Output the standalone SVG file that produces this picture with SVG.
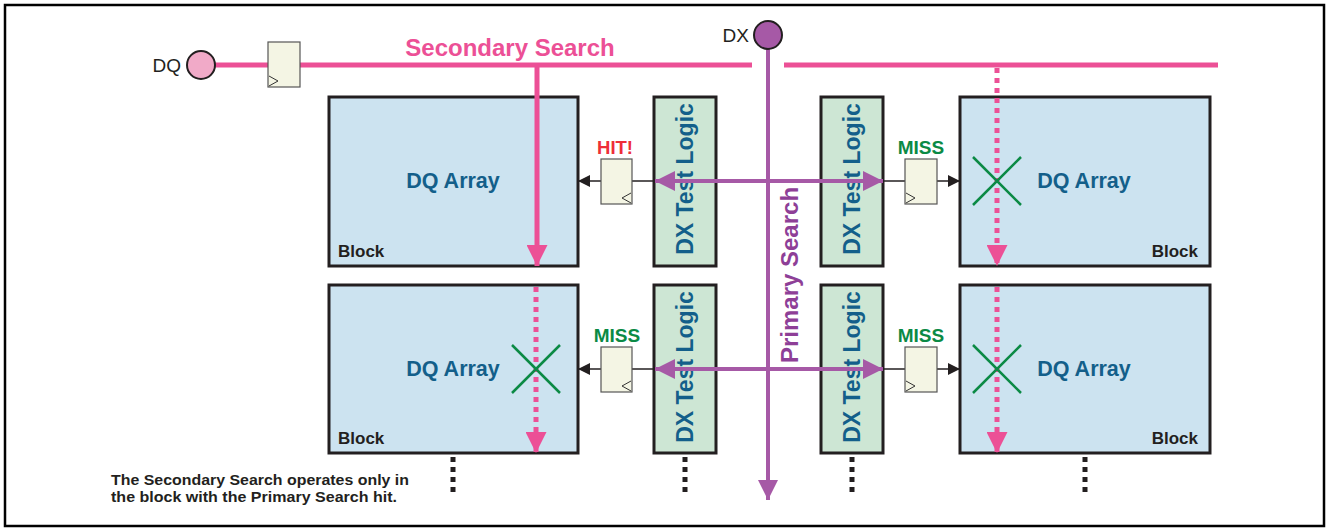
<svg xmlns="http://www.w3.org/2000/svg" width="1327" height="529" viewBox="0 0 1327 529">
<defs>
<style>
.blk{fill:#cce3f0;stroke:#231f20;stroke-width:3}
.dxl{fill:#cde6d4;stroke:#231f20;stroke-width:3}
.ff{fill:#f4f5e4;stroke:#555;stroke-width:1.2}
.clk{fill:none;stroke:#333;stroke-width:1}
.t{font-family:"Liberation Sans",Arial,sans-serif;font-weight:bold}
.arr{font-size:21.5px;fill:#135f8a}
.dxt{font-size:23px;fill:#135f8a}
.blab{font-size:17px;fill:#231f20}
.pink{stroke:#ec5096;stroke-width:5;fill:none}
.pdot{stroke:#ec5096;stroke-width:5;stroke-dasharray:5 5;fill:none}
.purp{stroke:#a659a6;stroke-width:4;fill:none}
.blk-l{stroke:#231f20;stroke-width:1.5;fill:none}
.x{stroke:#0b8a45;stroke-width:2.5}
.miss{font-size:19px;fill:#0b8a45}
.dots{stroke:#231f20;stroke-width:5;stroke-dasharray:5 5}
</style>
<marker id="pa" viewBox="0 0 10 10" refX="10" refY="5" markerWidth="4.2" markerHeight="4.2" markerUnits="strokeWidth" orient="auto"><path d="M0,0L10,5L0,10z" fill="#ec5096"/></marker>
<marker id="ppa" viewBox="0 0 10 10" refX="10" refY="5" markerWidth="5" markerHeight="5" markerUnits="strokeWidth" orient="auto"><path d="M0,0L10,5L0,10z" fill="#a659a6"/></marker>
<marker id="ppb" viewBox="0 0 10 10" refX="10" refY="5" markerWidth="5" markerHeight="5" markerUnits="strokeWidth" orient="auto-start-reverse"><path d="M0,0L10,5L0,10z" fill="#a659a6"/></marker>
<marker id="ka" viewBox="0 0 10 10" refX="10" refY="5" markerWidth="8" markerHeight="8" markerUnits="strokeWidth" orient="auto"><path d="M0,0L10,5L0,10z" fill="#231f20"/></marker>
</defs>
<rect x="5" y="5" width="1319" height="521" fill="#fff" stroke="#000" stroke-width="2.5"/>

<g id="blocks">
<g id="block-tl"><rect class="blk" x="329" y="97" width="249" height="169"/><text class="t arr" x="453" y="188" text-anchor="middle">DQ Array</text><text class="t blab" x="338" y="257">Block</text></g>
<g id="block-bl"><rect class="blk" x="329" y="285" width="249" height="168"/><text class="t arr" x="453" y="376" text-anchor="middle">DQ Array</text><text class="t blab" x="338" y="444">Block</text></g>
<g id="block-tr"><rect class="blk" x="960" y="97" width="250" height="169"/><text class="t arr" x="1084" y="188" text-anchor="middle">DQ Array</text><text class="t blab" x="1198" y="257" text-anchor="end">Block</text></g>
<g id="block-br"><rect class="blk" x="960" y="285" width="250" height="168"/><text class="t arr" x="1084" y="376" text-anchor="middle">DQ Array</text><text class="t blab" x="1198" y="444" text-anchor="end">Block</text></g>
</g>

<g id="dxlogic">
<g id="dx-tl"><rect class="dxl" x="654" y="97" width="62" height="169"/><text class="t dxt" transform="translate(693,179) rotate(-90)" text-anchor="middle">DX Test Logic</text></g>
<g id="dx-bl"><rect class="dxl" x="654" y="285" width="62" height="168"/><text class="t dxt" transform="translate(693,367) rotate(-90)" text-anchor="middle">DX Test Logic</text></g>
<g id="dx-tr"><rect class="dxl" x="821" y="97" width="62" height="169"/><text class="t dxt" transform="translate(860,179) rotate(-90)" text-anchor="middle">DX Test Logic</text></g>
<g id="dx-br"><rect class="dxl" x="821" y="285" width="62" height="168"/><text class="t dxt" transform="translate(860,367) rotate(-90)" text-anchor="middle">DX Test Logic</text></g>
</g>

<g id="connectors">
<line class="pink" x1="215" y1="65" x2="752" y2="65"/>
<line class="pink" x1="784" y1="65" x2="1218" y2="65"/>
<line class="pink" x1="537" y1="65" x2="537" y2="266" stroke-width="4" marker-end="url(#pa)"/>
<line class="pdot" x1="997" y1="68" x2="997" y2="266" stroke-width="4" marker-end="url(#pa)"/>
<line class="pdot" x1="536" y1="287" x2="536" y2="453" stroke-width="4" marker-end="url(#pa)"/>
<line class="pdot" x1="997" y1="287" x2="997" y2="453" stroke-width="4" marker-end="url(#pa)"/>
<line class="purp" x1="768" y1="48" x2="768" y2="500" marker-end="url(#ppa)"/>
<line class="blk-l" x1="632" y1="181" x2="654" y2="181"/>
<line class="blk-l" x1="601" y1="181" x2="578" y2="181" marker-end="url(#ka)"/>
<line class="blk-l" x1="883" y1="181" x2="905" y2="181"/>
<line class="blk-l" x1="937" y1="181" x2="960" y2="181" marker-end="url(#ka)"/>
<line class="blk-l" x1="632" y1="369" x2="654" y2="369"/>
<line class="blk-l" x1="601" y1="369" x2="578" y2="369" marker-end="url(#ka)"/>
<line class="blk-l" x1="883" y1="369" x2="905" y2="369"/>
<line class="blk-l" x1="937" y1="369" x2="960" y2="369" marker-end="url(#ka)"/>
<line class="purp" x1="655" y1="181" x2="883" y2="181" stroke-width="3" marker-start="url(#ppb)" marker-end="url(#ppa)"/>
<line class="purp" x1="655" y1="369" x2="883" y2="369" stroke-width="3" marker-start="url(#ppb)" marker-end="url(#ppa)"/>
</g>

<g id="dq-in"><circle cx="201" cy="65" r="14" fill="#f1aac8" stroke="#231f20" stroke-width="2"/><text x="181" y="72" font-family="Liberation Sans,Arial,sans-serif" font-size="19" fill="#231f20" text-anchor="end">DQ</text></g>
<g id="dx-in"><circle cx="768" cy="35" r="14" fill="#a659a6" stroke="#231f20" stroke-width="2"/><text x="749" y="42" font-family="Liberation Sans,Arial,sans-serif" font-size="19" fill="#231f20" text-anchor="end">DX</text></g>

<g id="ff-top"><rect class="ff" x="268" y="42" width="32" height="45"/><path class="clk" d="M269,76L278,81L269,86"/></g>
<g id="ff-hit"><rect class="ff" x="601" y="159" width="31" height="45"/><path class="clk" d="M631,193L622,198L631,203"/></g>
<g id="ff-miss1"><rect class="ff" x="905" y="159" width="32" height="45"/><path class="clk" d="M906,193L915,198L906,203"/></g>
<g id="ff-miss2"><rect class="ff" x="601" y="347" width="31" height="45"/><path class="clk" d="M631,381L622,386L631,391"/></g>
<g id="ff-miss3"><rect class="ff" x="905" y="347" width="32" height="45"/><path class="clk" d="M906,381L915,386L906,391"/></g>

<g id="labels">
<text class="t" x="510" y="56" font-size="24" fill="#ec5096" text-anchor="middle">Secondary Search</text>
<text class="t" transform="translate(798,275) rotate(-90)" font-size="24" fill="#8e3f97" text-anchor="middle">Primary Search</text>
<text class="t" x="615" y="154" font-size="18.5" fill="#ee2e38" text-anchor="middle">HIT!</text>
<text class="t miss" x="921" y="154" text-anchor="middle">MISS</text>
<text class="t miss" x="617" y="342" text-anchor="middle">MISS</text>
<text class="t miss" x="921" y="342" text-anchor="middle">MISS</text>
<text class="t" x="111" y="485" font-size="15.5" fill="#231f20" textLength="298" lengthAdjust="spacingAndGlyphs">The Secondary Search operates only in</text>
<text class="t" x="111" y="502" font-size="15.5" fill="#231f20" textLength="286" lengthAdjust="spacingAndGlyphs">the block with the Primary Search hit.</text>
</g>

<g id="crosses">
<path class="x" d="M973,157L1021,205M1021,157L973,205"/>
<path class="x" d="M512,345L560,393M560,345L512,393"/>
<path class="x" d="M973,345L1021,393M1021,345L973,393"/>
</g>

<g id="ellipsis">
<line class="dots" x1="453" y1="457" x2="453" y2="495"/>
<line class="dots" x1="685" y1="457" x2="685" y2="495"/>
<line class="dots" x1="852" y1="457" x2="852" y2="495"/>
<line class="dots" x1="1085" y1="457" x2="1085" y2="495"/>
</g>
</svg>
